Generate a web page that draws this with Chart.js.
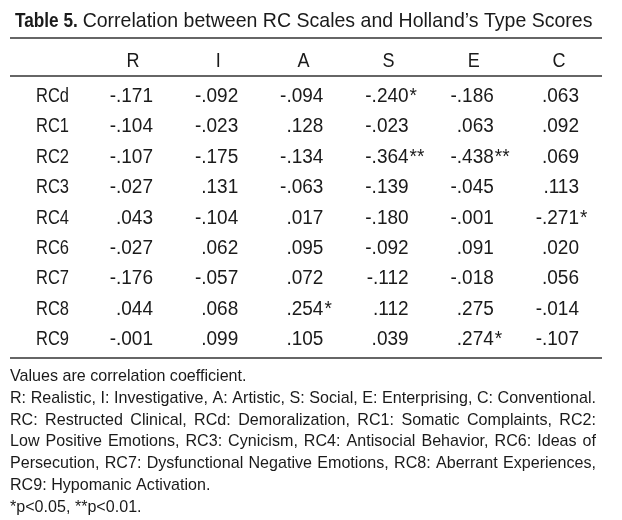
<!DOCTYPE html>
<html>
<head>
<meta charset="utf-8">
<script src="https://cdn.jsdelivr.net/npm/chart.js@4.4.1/dist/chart.umd.min.js"></script>
<style>
  html, body { margin: 0; padding: 0; background: #fff; }
  #wrap { width: 622px; height: 520px; position: relative; }
</style>
</head>
<body>
<div id="wrap"><canvas id="corrTable"></canvas></div>
<script>
// Holland types (columns) and RC scales (rows)
const types = ['R', 'I', 'A', 'S', 'E', 'C'];
const scales = ['RCd', 'RC1', 'RC2', 'RC3', 'RC4', 'RC6', 'RC7', 'RC8', 'RC9'];

// correlation coefficients, one array per column
const rVals = [-0.171, -0.104, -0.107, -0.027, 0.043, -0.027, -0.176, 0.044, -0.001];
const iVals = [-0.092, -0.023, -0.175, 0.131, -0.104, 0.062, -0.057, 0.068, 0.099];
const aVals = [-0.094, 0.128, -0.134, -0.063, 0.017, 0.095, 0.072, 0.254, 0.105];
const sVals = [-0.240, -0.023, -0.364, -0.139, -0.180, -0.092, -0.112, 0.112, 0.039];
const eVals = [-0.186, 0.063, -0.438, -0.045, -0.001, 0.091, -0.018, 0.275, 0.274];
const cVals = [0.063, 0.092, 0.069, 0.113, -0.271, 0.020, 0.056, -0.014, -0.107];

// significance marks: [row, column, mark]
const marks = [
  ['RCd', 'S', '*'], ['RC2', 'S', '**'], ['RC2', 'E', '**'],
  ['RC4', 'C', '*'], ['RC8', 'A', '*'], ['RC9', 'E', '*']
];

const titleBold = 'Table 5.';
const titleText = 'Correlation between RC Scales and Holland\u2019s Type Scores';
const notes = [
  'Values are correlation coefficient.',
  'R: Realistic, I: Investigative, A: Artistic, S: Social, E: Enterprising, C: Conventional.',
  'RC: Restructed Clinical, RCd: Demoralization, RC1: Somatic Complaints, RC2:',
  'Low Positive Emotions, RC3: Cynicism, RC4: Antisocial Behavior, RC6: Ideas of',
  'Persecution, RC7: Dysfunctional Negative Emotions, RC8: Aberrant Experiences,',
  'RC9: Hypomanic Activation.',
  '*p<0.05, **p<0.01.'
];
const justified = [false, true, true, true, true, false, false];

const columns = [rVals, iVals, aVals, sVals, eVals, cVals];

const FAMILY = "'Liberation Sans', Arial, sans-serif";
const INK = '#1a1a1a';
const NOTE_W = 586;

function fmt(v) {
  return (v < 0 ? '-' : '') + Math.abs(v).toFixed(3).slice(1);
}

// text with a horizontal squeeze (sx) to mimic the condensed face
function drawText(ctx, str, x, y, size, sx, align, weight) {
  ctx.save();
  ctx.font = (weight || 'normal') + ' ' + size + 'px ' + FAMILY;
  ctx.textAlign = align || 'left';
  ctx.textBaseline = 'alphabetic';
  ctx.fillStyle = INK;
  ctx.translate(x, y);
  ctx.scale(sx, 1);
  ctx.fillText(str, 0, 0);
  ctx.restore();
}

function textWidth(ctx, str, size, sx, weight) {
  ctx.save();
  ctx.font = (weight || 'normal') + ' ' + size + 'px ' + FAMILY;
  const w = ctx.measureText(str).width * sx;
  ctx.restore();
  return w;
}

function drawJustified(ctx, str, x, y, size, sx, width) {
  const words = str.split(' ');
  const total = words.reduce((s, w) => s + textWidth(ctx, w, size, sx), 0);
  const gap = (width - total) / (words.length - 1);
  let cx = x;
  words.forEach(w => {
    drawText(ctx, w, cx, y, size, sx, 'left');
    cx += textWidth(ctx, w, size, sx) + gap;
  });
}

function rule(ctx, y) {
  ctx.save();
  ctx.strokeStyle = '#666';
  ctx.lineWidth = 2;
  ctx.beginPath();
  ctx.moveTo(10, y);
  ctx.lineTo(602, y);
  ctx.stroke();
  ctx.restore();
}

const tablePlugin = {
  id: 'tablePlugin',
  afterDatasetsDraw(chart) {
    const ctx = chart.ctx;
    const xs = chart.scales.x;
    const ys = chart.scales.y;

    // title
    drawText(ctx, titleBold, 15, 27, 21, 0.82, 'left', 'bold');
    const bw = textWidth(ctx, titleBold + ' ', 21, 0.82, 'bold');
    drawText(ctx, titleText, 15 + bw, 27, 21, 0.93, 'left');

    rule(ctx, 38);
    rule(ctx, 76);
    rule(ctx, 358);

    // column headers
    types.forEach((t, i) => {
      drawText(ctx, t, xs.getPixelForValue(i), 67, 20, 0.9, 'center');
    });

    // row labels
    scales.forEach((s, i) => {
      drawText(ctx, s, 36, ys.getPixelForValue(i) + 7, 20, 0.825, 'left');
    });

    // cells
    chart.data.datasets.forEach((ds, di) => {
      const meta = chart.getDatasetMeta(di);
      meta.data.forEach((pt, i) => {
        const d = ds.data[i];
        const xr = pt.x + 20;
        const yb = pt.y + 7;
        drawText(ctx, fmt(d.v), xr, yb, 20, 0.95, 'right');
        const m = marks.find(k => k[0] === d.y && k[1] === d.x);
        if (m) drawText(ctx, m[2], xr + 1, yb, 20, 0.95, 'left');
      });
    });

    // footnotes: squeeze so the longest line just fills the table width
    const noteSx = Math.min(1, (NOTE_W - 1) / textWidth(ctx, notes[1], 17, 1));
    notes.forEach((n, i) => {
      const y = 381 + i * 21.8;
      if (justified[i]) drawJustified(ctx, n, 10, y, 17, noteSx, NOTE_W);
      else drawText(ctx, n, 10, y, 17, noteSx, 'left');
    });
  }
};

new Chart(document.getElementById('corrTable'), {
  type: 'scatter',
  data: {
    datasets: columns.map((vals, ci) => ({
      label: types[ci],
      data: vals.map((v, ri) => ({ x: types[ci], y: scales[ri], v: v })),
      pointRadius: 0,
      pointHoverRadius: 0
    }))
  },
  options: {
    responsive: true,
    maintainAspectRatio: false,
    animation: false,
    events: [],
    layout: { padding: { left: 90.4, right: 20.4, top: 79.8, bottom: 166.8 } },
    scales: {
      x: { type: 'category', labels: types, offset: true, display: false },
      y: { type: 'category', labels: scales, offset: true, display: false }
    },
    plugins: {
      legend: { display: false },
      tooltip: { enabled: false }
    }
  },
  plugins: [tablePlugin]
});
</script>
</body>
</html>
